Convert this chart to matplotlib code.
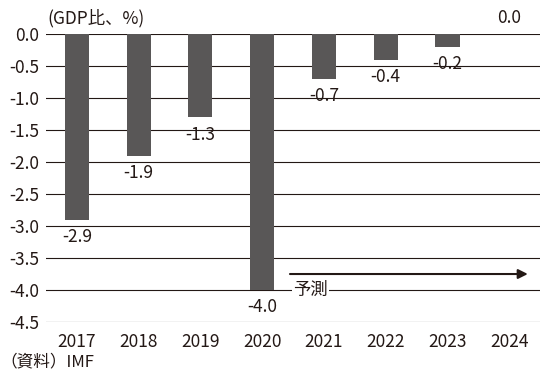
import matplotlib.pyplot as plt

plt.rcParams["font.family"] = ["Noto Sans CJK JP", "DejaVu Sans"]

years = ["2017", "2018", "2019", "2020", "2021", "2022", "2023", "2024"]
balance = [-2.9, -1.9, -1.3, -4.0, -0.7, -0.4, -0.2, 0.0]
yticks = [0.0, -0.5, -1.0, -1.5, -2.0, -2.5, -3.0, -3.5, -4.0, -4.5]

fig = plt.figure(figsize=(5.54, 3.74), dpi=100)
ax = fig.add_axes([0.083, 0.139, 0.892, 0.77])

x = list(range(len(years)))
ax.bar(x, balance, width=0.39, color="#595757", zorder=3)

for xi, v in zip(x, balance):
    if v == 0:
        ax.annotate(f"{v:.1f}", (xi, v), xytext=(0, 5), textcoords="offset points",
                    ha="center", va="bottom", fontsize=12.5, color="#231815")
    else:
        ax.annotate(f"{v:.1f}", (xi, v), xytext=(0, -6), textcoords="offset points",
                    ha="center", va="top", fontsize=12.5, color="#231815")

ax.set_ylim(-4.5, 0)
ax.set_xlim(-0.5, 7.5)
ax.set_yticks(yticks)
ax.set_yticklabels([f"{t:.1f}" for t in yticks])
ax.set_xticks(x)
ax.set_xticklabels(years)
ax.tick_params(length=0, labelsize=12.5, colors="#231815")
ax.tick_params(axis="x", pad=8)
ax.tick_params(axis="y", pad=5)
ax.yaxis.grid(True, color="#231815", linewidth=0.8, zorder=0)
for s in ax.spines.values():
    s.set_visible(False)

# forecast arrow
ax.annotate("", xy=(7.3, -3.75), xytext=(3.45, -3.75),
            arrowprops=dict(arrowstyle="-|>", color="#231815", lw=1.5,
                            mutation_scale=14, shrinkA=0, shrinkB=0), zorder=4)
ax.text(3.5, -4.0, "予測", fontsize=12.5, color="#231815", ha="left", va="center",
        bbox=dict(facecolor="white", edgecolor="none", pad=1), zorder=4)

fig.text(0.085, 0.952, "(GDP比、%)", fontsize=12.5, color="#231815", ha="left", va="center")
fig.text(0.0, 0.033, "（資料）IMF", fontsize=12, color="#231815", ha="left", va="center")

fig.savefig("out.png", dpi=100)
